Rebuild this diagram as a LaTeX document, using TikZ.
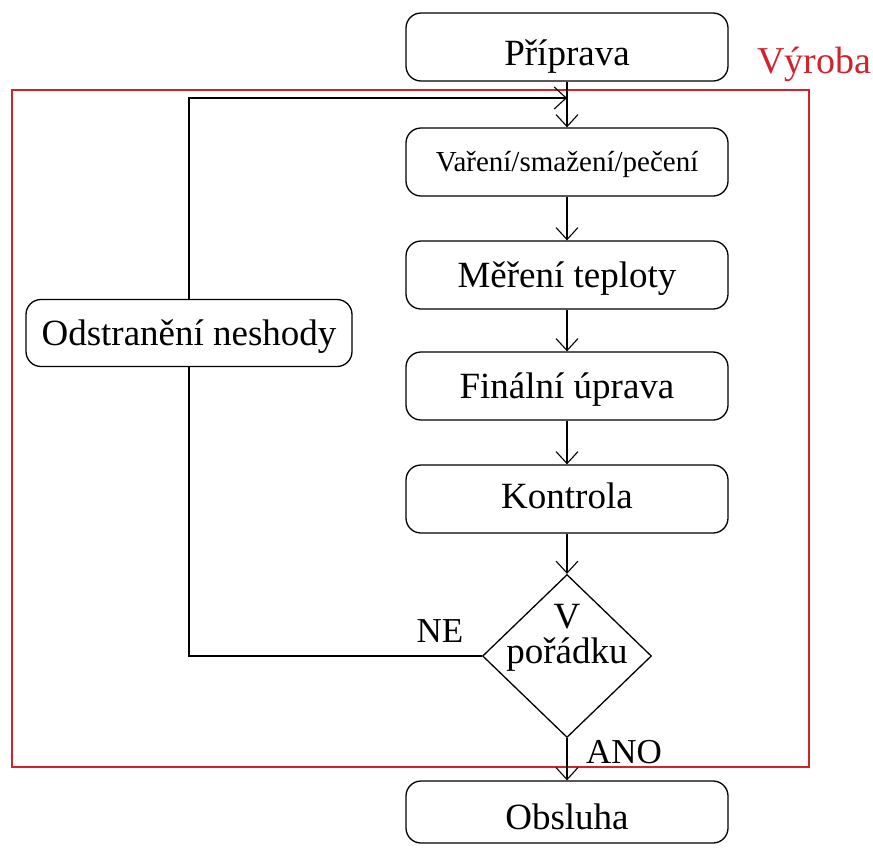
\documentclass[tikz,border=0pt]{standalone}
\usepackage{fontspec}
\setmainfont{Liberation Serif}
\usetikzlibrary{shapes.geometric,arrows.meta}
\definecolor{framered}{RGB}{210,35,45}
\tikzset{
  stepbox/.style={draw, line width=1.3pt, rounded corners=15pt, minimum width=322pt,
    minimum height=68pt, inner sep=0pt, text height=24.5pt, text depth=0pt,
    font=\fontsize{37}{41}\selectfont},
  flow/.style={line width=1.3pt, -{Straight Barb[length=12pt,width=22pt,line width=1.1pt]}},
  plain/.style={line width=1.3pt},
  lbl/.style={inner sep=0pt, text height=23pt, text depth=0pt, font=\fontsize{35}{40}\selectfont}
}
\begin{document}
\begin{tikzpicture}[x=1pt,y=-1pt]
\useasboundingbox (0,0) rectangle (873,847);
\fill[white] (0,0) rectangle (873,847);
% production frame
\draw[framered, line width=1.3pt] (12,90) rectangle (809,767);
\node[text=framered, inner sep=0pt, text height=25pt, text depth=0pt,
  font=\fontsize{38}{40}\selectfont] (vyroba) at (814,61) {Výroba};
% main sequence
\node[stepbox, text height=36pt] (pri) at (567,47) {Příprava};
\node[stepbox, text height=19.5pt, font=\fontsize{29}{32}\selectfont] (var) at (567,162) {Vaření/smažení/pečení};
\node[stepbox] (mer) at (567,275) {Měření teploty};
\node[stepbox] (fin) at (567,386) {Finální úprava};
\node[stepbox, text height=19pt] (kon) at (567,499) {Kontrola};
\node[draw, diamond, line width=1.3pt, minimum width=169pt, minimum height=163pt, inner sep=0pt] (dec) at (567,656) {};
\node[inner sep=0pt, align=center, font=\fontsize{37}{35}\selectfont] (dectext) at (567,638) {V\\pořádku};
\node[stepbox, minimum height=62pt, text height=34pt] (obs) at (567,812) {Obsluha};
\node[stepbox, minimum width=326pt, minimum height=67pt] (fix) at (189,333) {Odstranění neshody};
% connectors
\draw[flow] (pri) -- (var);
\draw[flow] (var) -- (mer);
\draw[flow] (mer) -- (fin);
\draw[flow] (fin) -- (kon);
\draw[flow] (kon) -- (dec);
\draw[flow] (dec) -- (obs);
\coordinate (join) at (567,98);
\draw[plain] (dec.west) -| (fix.south);
\draw[flow] (fix.north) |- (join);
% branch labels
\node[lbl] (ne) at (440,631) {NE};
\node[lbl] (ano) at (624,752) {ANO};
\end{tikzpicture}
\end{document}
